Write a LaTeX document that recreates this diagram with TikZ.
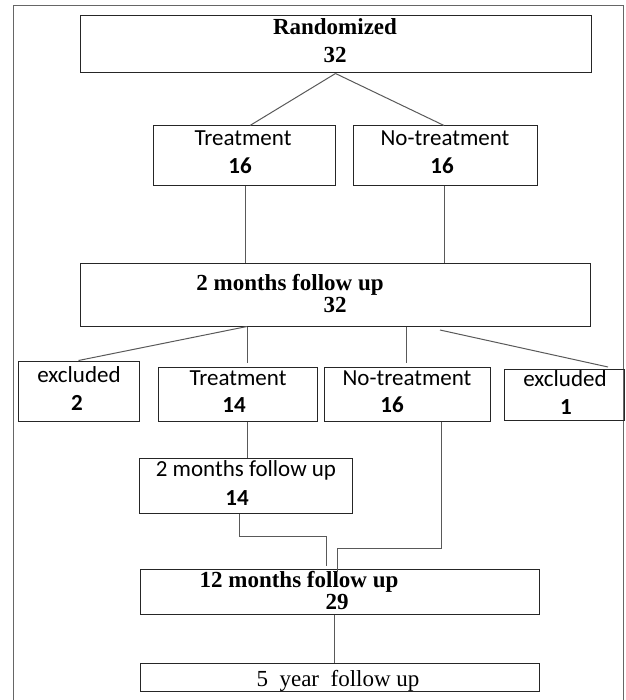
\documentclass[tikz,border=0pt]{standalone}
\usepackage{fontspec}
\setmainfont{Liberation Serif}
\newfontfamily\calib{Carlito}
\begin{document}
\begin{tikzpicture}[x=1pt,y=-1pt,
  box/.style={draw=black!85,line width=1pt,rectangle,inner sep=0pt},
  conn/.style={draw=black!65,line width=1pt},
  frame/.style={draw=black!60,line width=1pt},
  tr/.style={font=\fontsize{23}{27}\selectfont\bfseries,anchor=base,inner sep=0pt},
  trr/.style={font=\fontsize{23}{27}\selectfont,anchor=base,inner sep=0pt},
  ca/.style={font=\fontsize{23}{27}\selectfont\calib,anchor=base,inner sep=0pt},
  cb/.style={font=\fontsize{23}{27}\selectfont\calib\bfseries,anchor=base,inner sep=0pt}]
\useasboundingbox (0,0) rectangle (625,700);
% outer frame
\draw[frame] (13,700) -- (13,6) -- (623,6) -- (623,700);
% boxes
\node[box,minimum width=511pt,minimum height=57pt] (rand) at (335.5,44.5) {};
\node[box,minimum width=182pt,minimum height=60pt] (treat) at (244,156) {};
\node[box,minimum width=184pt,minimum height=60pt] (notreat) at (445,156) {};
\node[box,minimum width=510pt,minimum height=63pt] (fu2) at (335,294.5) {};
\node[box,minimum width=121pt,minimum height=60pt] (exL) at (78.5,391) {};
\node[box,minimum width=159pt,minimum height=54pt] (treat2) at (237.5,394) {};
\node[box,minimum width=166pt,minimum height=54pt] (notreat2) at (407,394) {};
\node[box,minimum width=120pt,minimum height=51pt] (exR) at (564,395) {};
\node[box,minimum width=213pt,minimum height=55pt] (fu2s) at (245.5,485.5) {};
\node[box,minimum width=399pt,minimum height=45pt] (fu12) at (339.5,591.5) {};
\node[box,minimum width=399pt,minimum height=28pt] (fu5) at (339.5,677) {};
% texts
\node[tr] (t1) at (335,35) {Randomized};
\node[tr] (t2) at (335,63) {32};
\node[ca] (t3) at (243,146) {Treatment};
\node[cb] (t4) at (240,174) {16};
\node[ca] (t5) at (445,146) {No-treatment};
\node[cb] (t6) at (442,174) {16};
\node[tr] (t7) at (290,290) {2 months follow up};
\node[tr] (t8) at (335,312) {32};
\node[ca] (t9) at (79,382) {excluded};
\node[cb] (t10) at (77,410) {2};
\node[ca] (t11) at (238,385) {Treatment};
\node[cb] (t12) at (234,412) {14};
\node[ca] (t13) at (407,385) {No-treatment};
\node[cb] (t14) at (392,412) {16};
\node[ca] (t15) at (565,386) {excluded};
\node[cb] (t16) at (566,414) {1};
\node[ca] (t17) at (246,476) {2 months follow up};
\node[cb] (t18) at (237,505) {14};
\node[tr] (t19) at (299,587) {12 months follow up};
\node[tr] (t20) at (337,609) {29};
\node[trr] (t21) at (338,686) {5\ \ year\ \ follow up};
% connectors
\coordinate (c1) at (247,363);
\coordinate (c2) at (406,363);
\coordinate (c3) at (440,330);
\coordinate (c4) at (608,367);
\coordinate (c5) at (239,536);
\coordinate (c6) at (326,536);
\coordinate (c7) at (326,566);
\coordinate (c8) at (441,548);
\coordinate (c9) at (337,548);
\coordinate (c10) at (337,572);
\draw[conn] (rand.south) -- (250,0 |- treat.north);
\draw[conn] (rand.south) -- (444,0 |- notreat.north);
\draw[conn] (245,0 |- treat.south) -- (245,0 |- fu2.north);
\draw[conn] (444,0 |- notreat.south) -- (444,0 |- fu2.north);
\draw[conn] (247,0 |- fu2.south) -- (exL.north);
\draw[conn] (247,0 |- fu2.south) -- (c1);
\draw[conn] (406,0 |- fu2.south) -- (c2);
\draw[conn] (c3) -- (c4);
\draw[conn] (247,0 |- treat2.south) -- (247,0 |- fu2s.north);
\draw[conn] (239,0 |- fu2s.south) -- (c5) -- (c6) -- (c7);
\draw[conn] (441,0 |- notreat2.south) -- (c8) -- (c9) -- (c10);
\draw[conn] (334,0 |- fu12.south) -- (334,0 |- fu5.north);
\end{tikzpicture}
\end{document}
